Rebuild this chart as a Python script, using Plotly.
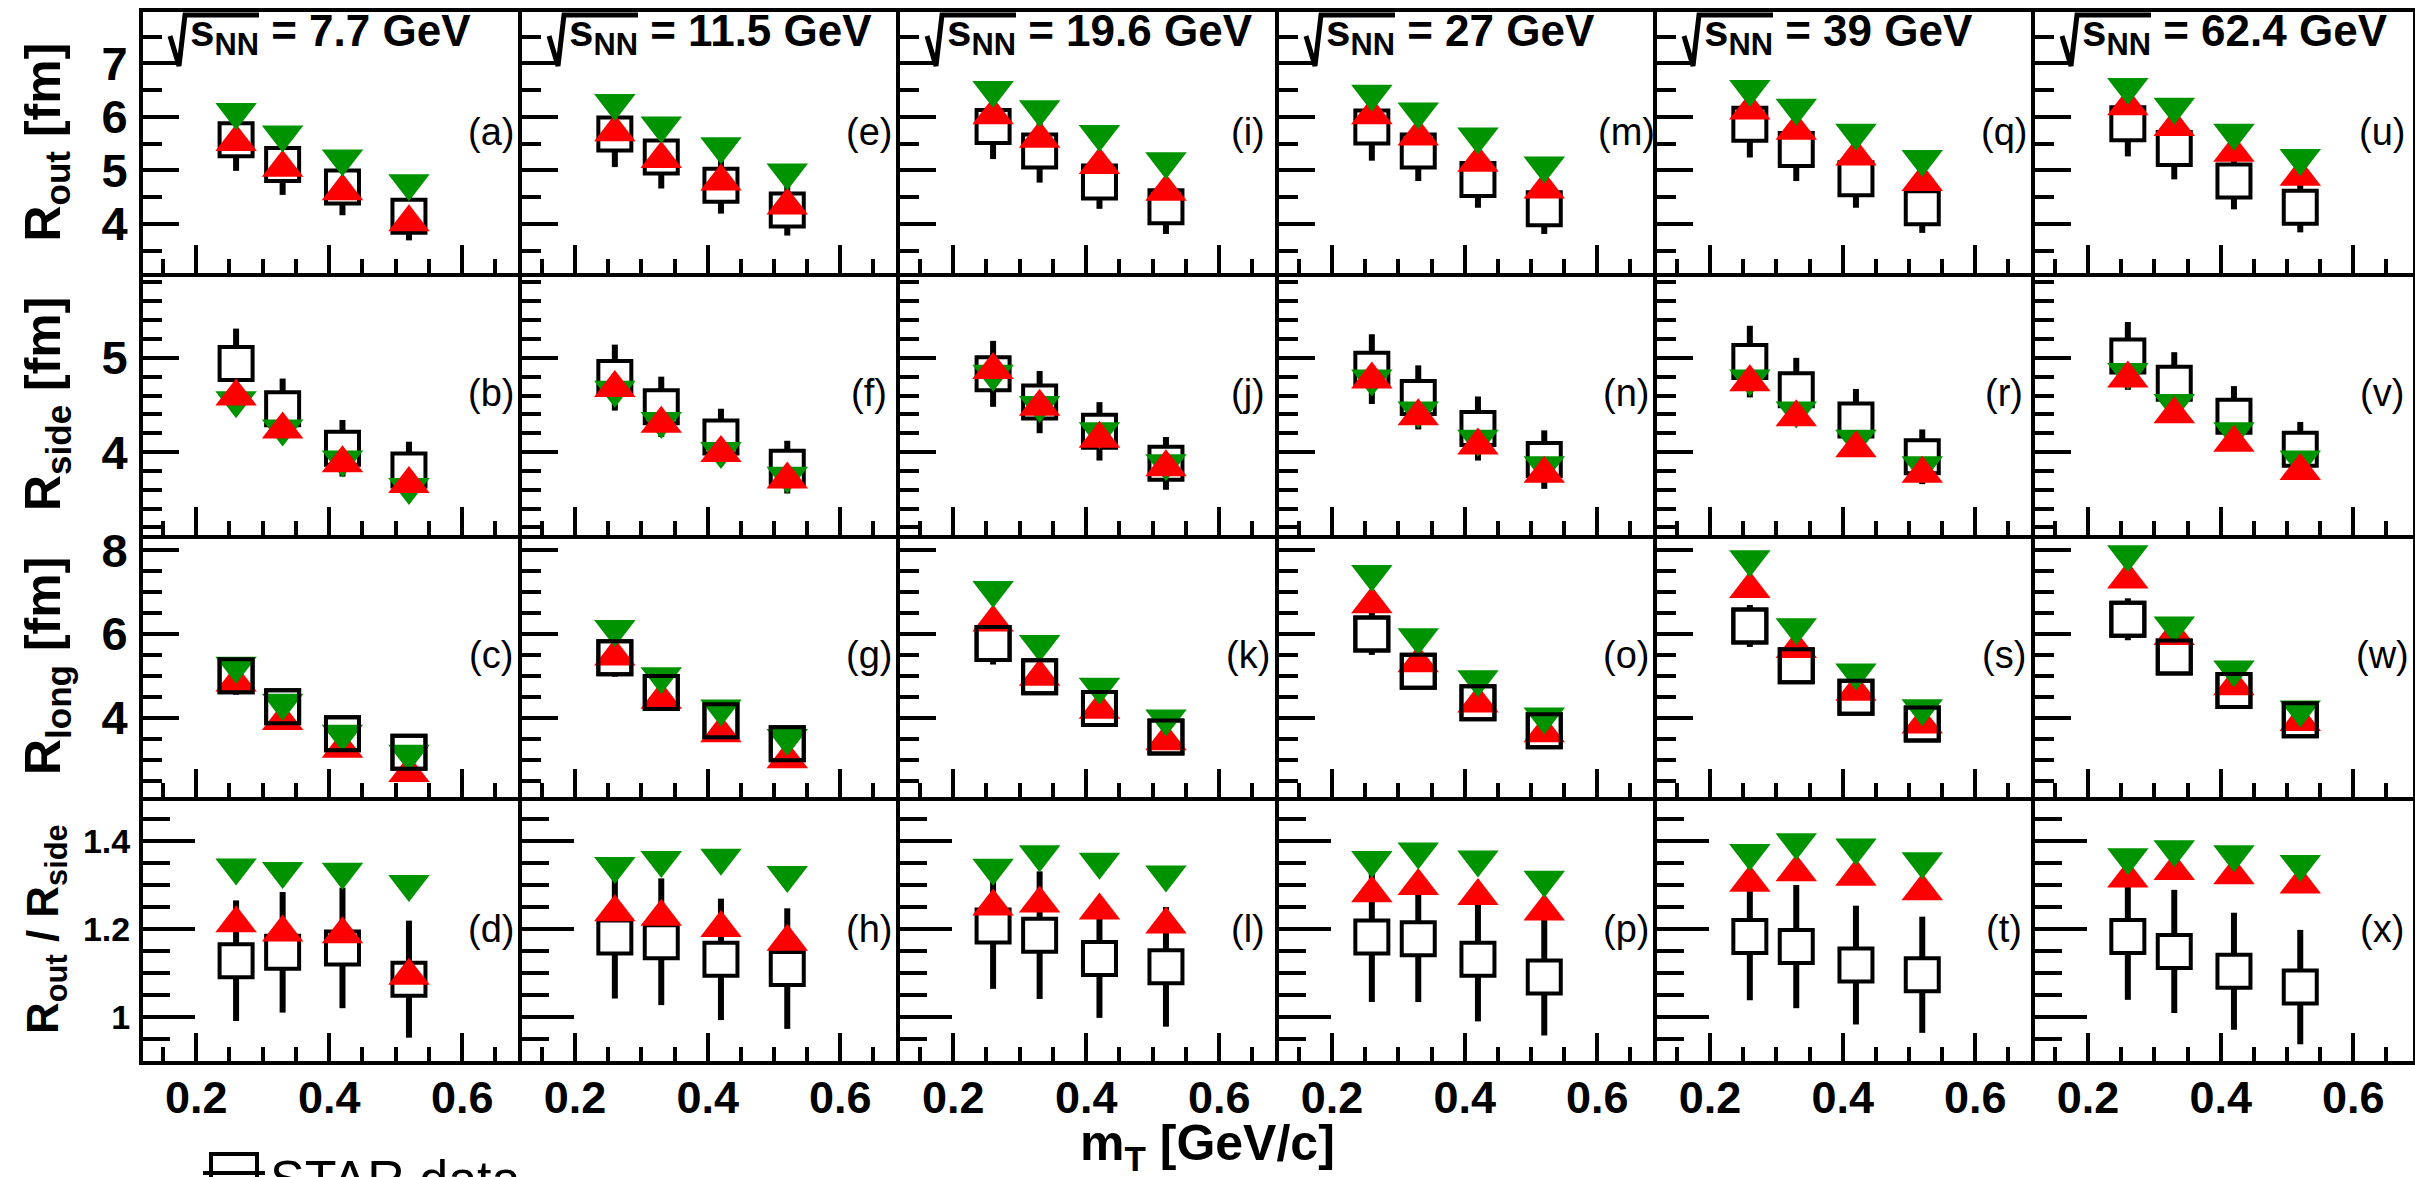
import plotly.graph_objects as go

W, H = 2415, 1177

# ---------------- data ----------------
mT = [0.26, 0.33, 0.42, 0.52]
energies = ["7.7", "11.5", "19.6", "27", "39", "62.4"]
letters = [["a", "b", "c", "d"], ["e", "f", "g", "h"], ["i", "j", "k", "l"],
           ["m", "n", "o", "p"], ["q", "r", "s", "t"], ["u", "v", "w", "x"]]

# R_out [fm]
rout_star = [[5.57, 5.11, 4.69, 4.14], [5.68, 5.25, 4.72, 4.26], [5.82, 5.36, 4.78, 4.32],
             [5.81, 5.36, 4.83, 4.28], [5.86, 5.39, 4.84, 4.30], [5.87, 5.41, 4.80, 4.31]]
rout_star_err = [[0.58, 0.57, 0.53, 0.45], [0.62, 0.59, 0.53, 0.48], [0.61, 0.59, 0.50, 0.51],
                 [0.63, 0.56, 0.53, 0.47], [0.62, 0.59, 0.54, 0.47], [0.61, 0.58, 0.53, 0.47]]
rout_red = [[5.53, 5.05, 4.61, 4.03], [5.71, 5.21, 4.79, 4.34], [6.03, 5.59, 5.10, 4.60],
            [6.03, 5.63, 5.14, 4.64], [6.12, 5.74, 5.26, 4.78], [6.20, 5.81, 5.33, 4.88]]
rout_green = [[6.09, 5.67, 5.22, 4.76], [6.26, 5.84, 5.45, 4.96], [6.50, 6.14, 5.68, 5.17],
              [6.43, 6.10, 5.63, 5.09], [6.52, 6.17, 5.70, 5.21], [6.56, 6.19, 5.70, 5.23]]

# R_side [fm]
rside_star = [[4.94, 4.46, 4.04, 3.81], [4.79, 4.48, 4.16, 3.84], [4.83, 4.53, 4.22, 3.88],
              [4.88, 4.58, 4.25, 3.92], [4.96, 4.66, 4.34, 3.95], [5.02, 4.73, 4.38, 4.03]]
rside_star_err = [[0.37, 0.32, 0.30, 0.30], [0.35, 0.32, 0.30, 0.28], [0.35, 0.33, 0.31, 0.28],
                  [0.37, 0.34, 0.34, 0.31], [0.38, 0.34, 0.33, 0.29], [0.36, 0.33, 0.32, 0.29]]
rside_red = [[4.59, 4.24, 3.88, 3.66], [4.68, 4.30, 3.99, 3.71], [4.87, 4.48, 4.14, 3.84],
             [4.77, 4.38, 4.07, 3.77], [4.74, 4.37, 4.04, 3.77], [4.78, 4.40, 4.10, 3.80]]
rside_green = [[4.55, 4.25, 3.92, 3.63], [4.66, 4.33, 4.01, 3.75], [4.83, 4.50, 4.22, 3.88],
               [4.78, 4.44, 4.14, 3.86], [4.78, 4.44, 4.14, 3.86], [4.85, 4.52, 4.22, 3.92]]

# R_long [fm]
rlong_star = [[5.00, 4.26, 3.62, 3.18], [5.43, 4.60, 3.93, 3.38], [5.77, 4.98, 4.22, 3.54],
              [6.00, 5.11, 4.36, 3.69], [6.19, 5.24, 4.49, 3.85], [6.35, 5.45, 4.65, 3.95]]
rlong_star_err = [[0.45, 0.40, 0.35, 0.35], [0.45, 0.40, 0.35, 0.35], [0.50, 0.40, 0.35, 0.35],
                  [0.50, 0.40, 0.35, 0.35], [0.50, 0.40, 0.35, 0.35], [0.50, 0.40, 0.35, 0.35]]
rlong_red = [[4.84, 3.92, 3.26, 2.68], [5.46, 4.43, 3.63, 3.01], [6.27, 4.98, 4.19, 3.44],
             [6.71, 5.30, 4.34, 3.63], [7.07, 5.64, 4.62, 3.84], [7.30, 5.95, 4.75, 3.90]]
rlong_green = [[5.24, 4.36, 3.62, 3.14], [6.12, 4.99, 4.22, 3.52], [7.05, 5.76, 4.74, 3.98],
               [7.43, 5.92, 4.92, 4.03], [7.78, 6.16, 5.08, 4.23], [7.90, 6.20, 5.15, 4.20]]

# R_out / R_side
ratio_star = [[1.128, 1.147, 1.157, 1.086], [1.182, 1.171, 1.131, 1.110], [1.207, 1.186, 1.133, 1.114],
              [1.182, 1.178, 1.131, 1.091], [1.183, 1.160, 1.118, 1.096], [1.183, 1.149, 1.104, 1.068]]
ratio_star_err = [[0.137, 0.137, 0.137, 0.133], [0.140, 0.144, 0.138, 0.137], [0.143, 0.145, 0.135, 0.136],
                  [0.148, 0.144, 0.141, 0.133], [0.145, 0.140, 0.135, 0.132], [0.144, 0.140, 0.133, 0.130]]
ratio_red = [[1.213, 1.192, 1.188, 1.094], [1.238, 1.228, 1.202, 1.171], [1.251, 1.258, 1.242, 1.210],
             [1.281, 1.298, 1.275, 1.240], [1.305, 1.329, 1.319, 1.286], [1.315, 1.332, 1.322, 1.301]]
ratio_green = [[1.340, 1.332, 1.330, 1.302], [1.343, 1.357, 1.362, 1.323], [1.339, 1.370, 1.353, 1.324],
               [1.357, 1.376, 1.358, 1.312], [1.373, 1.397, 1.385, 1.354], [1.363, 1.381, 1.370, 1.348]]

rows = [
    dict(star=rout_star, err=rout_star_err, red=rout_red, green=rout_green,
         yrange=[3.08, 7.96], major=[4, 5, 6, 7], labels=["4", "5", "6", "7"], minor=0.5,
         title="R<sub>out</sub> [fm]", tsize=50, lsize=47, tl=36, mtl=19),
    dict(star=rside_star, err=rside_star_err, red=rside_red, green=rside_green,
         yrange=[3.12, 5.90], major=[4, 5], labels=["4", "5"], minor=0.2,
         title="R<sub>side</sub> [fm]", tsize=50, lsize=47, tl=36, mtl=19),
    dict(star=rlong_star, err=rlong_star_err, red=rlong_red, green=rlong_green,
         yrange=[2.11, 8.36], major=[4, 6, 8], labels=["4", "6", "8"], minor=0.5,
         title="R<sub>long</sub> [fm]", tsize=50, lsize=47, tl=36, mtl=19),
    dict(star=ratio_star, err=ratio_star_err, red=ratio_red, green=ratio_green,
         yrange=[0.9, 1.5], major=[1.0, 1.2, 1.4], labels=["1", "1.2", "1.4"], minor=0.05,
         title="R<sub>out</sub> / R<sub>side</sub>", tsize=44, lsize=34, tl=52, mtl=27),
]

xticks = [0.2, 0.4, 0.6]
xticklabels = ["0.2", "0.4", "0.6"]

# ---------------- layout geometry (pixels) ----------------
col_edges = [143, 522, 900, 1279, 1657, 2035, 2413]
row_edges = [12, 273, 535, 797, 1061]

RED = "#ff0000"
GREEN = "#009300"
FONT = "Liberation Sans"
TRI = 36


def px(xp):
    return xp / W


def py(yp):
    return 1 - yp / H


fig = go.Figure()
layout = dict(width=W, height=H, margin=dict(l=0, r=0, t=0, b=0, autoexpand=False),
              paper_bgcolor="white", plot_bgcolor="white", showlegend=False)
annotations = []
shapes = []

k = 0
for c in range(6):
    for r in range(4):
        k += 1
        R = rows[r]
        xa = "x" if k == 1 else f"x{k}"
        ya = "y" if k == 1 else f"y{k}"
        xkey = "xaxis" if k == 1 else f"xaxis{k}"
        ykey = "yaxis" if k == 1 else f"yaxis{k}"
        L, Rr = col_edges[c], col_edges[c + 1]
        T, B = row_edges[r], row_edges[r + 1]
        layout[xkey] = dict(
            domain=[L / W, Rr / W], anchor=ya, range=[0.12, 0.69],
            showline=True, linecolor="black", linewidth=4, mirror=(r == 0),
            ticks="inside", ticklen=28, tickwidth=4, tickcolor="black",
            tickvals=xticks, ticktext=xticklabels, showticklabels=(r == 3),
            tickfont=dict(family=FONT, size=45, color="black", weight="bold"),
            ticklabelstandoff=-6,
            minor=dict(dtick=0.05, tick0=0.0, ticks="inside", ticklen=14, tickwidth=4,
                       tickcolor="black", showgrid=False),
            showgrid=False, zeroline=False, fixedrange=True)
        layout[ykey] = dict(
            domain=[1 - B / H, 1 - T / H], anchor=xa, range=R["yrange"],
            showline=True, linecolor="black", linewidth=4, mirror=(c == 5),
            ticks="inside", ticklen=R["tl"], tickwidth=4, tickcolor="black",
            tickvals=R["major"], ticktext=R["labels"], showticklabels=(c == 0),
            tickfont=dict(family=FONT, size=R["lsize"], color="black", weight="bold"),
            ticklabelstandoff=2,
            minor=dict(dtick=R["minor"], tick0=0.0, ticks="inside", ticklen=R["mtl"], tickwidth=4,
                       tickcolor="black", showgrid=False),
            showgrid=False, zeroline=False, fixedrange=True)

        # STAR data: error bars + white square
        fig.add_trace(go.Scatter(
            x=mT, y=R["star"][c], xaxis=xa, yaxis=ya, mode="markers", name="STAR data",
            error_y=dict(type="data", array=R["err"][c], color="black", thickness=6, width=0),
            marker=dict(symbol="square", size=33, color="white", line=dict(color="black", width=4)),
            showlegend=False))
        red_tr = go.Scatter(x=mT, y=R["red"][c], xaxis=xa, yaxis=ya, mode="markers",
                            marker=dict(symbol="triangle-up", size=TRI, color=RED, line=dict(width=0)),
                            showlegend=False)
        green_tr = go.Scatter(x=mT, y=R["green"][c], xaxis=xa, yaxis=ya, mode="markers",
                              marker=dict(symbol="triangle-down", size=TRI, color=GREEN, line=dict(width=0)),
                              showlegend=False)
        if r == 1:
            fig.add_trace(green_tr)
            fig.add_trace(red_tr)
        else:
            fig.add_trace(red_tr)
            fig.add_trace(green_tr)
        if r == 2:
            fig.add_trace(go.Scatter(
                x=mT, y=R["star"][c], xaxis=xa, yaxis=ya, mode="markers",
                marker=dict(symbol="square-open", size=33, color="black", line=dict(color="black", width=4)),
                showlegend=False))

        # panel letter
        dy = 132 if r == 3 else 120
        annotations.append(dict(
            text=f"({letters[c][r]})", xref="paper", yref="paper",
            x=px(Rr - 31), y=py(T + dy), xanchor="center", yanchor="middle",
            showarrow=False, font=dict(family=FONT, size=38, color="black")))

    # energy label: sqrt sign drawn as a path, text after it
    L = col_edges[c]
    annotations.append(dict(
        text=f"s<sub>NN</sub> = {energies[c]} GeV",
        xref="paper", yref="paper",
        x=px(L + 45), y=py(4), xanchor="left", yanchor="top", showarrow=False,
        font=dict(family=FONT, size=44, color="black", weight="bold")))
    path = (f"M {px(L + 27)},{py(36)} L {px(L + 36)},{py(66)} "
            f"L {px(L + 42)},{py(15)} L {px(L + 116)},{py(15)}")
    shapes.append(dict(type="path", xref="paper", yref="paper", path=path,
                       line=dict(color="black", width=5)))

# y-axis titles
for r in range(4):
    T, B = row_edges[r], row_edges[r + 1]
    annotations.append(dict(
        text=rows[r]["title"], xref="paper", yref="paper", x=px(46), y=py((T + B) / 2),
        xanchor="center", yanchor="middle", textangle=-90, showarrow=False,
        font=dict(family=FONT, size=rows[r]["tsize"], color="black", weight="bold")))

# x-axis title
annotations.append(dict(
    text="m<sub>T</sub> [GeV/c]", xref="paper", yref="paper", x=px(1207), y=py(1146),
    xanchor="center", yanchor="middle", showarrow=False,
    font=dict(family=FONT, size=50, color="black", weight="bold")))

# legend (cut by the bottom edge, as in the reference)
annotations.append(dict(
    text="STAR data", xref="paper", yref="paper", x=px(268), y=py(1148),
    xanchor="left", yanchor="top", showarrow=False,
    font=dict(family=FONT, size=52, color="black")))
shapes.append(dict(type="rect", xref="paper", yref="paper", x0=px(211), x1=px(257),
                   y0=py(1200), y1=py(1154), line=dict(color="black", width=4),
                   fillcolor="white"))
shapes.append(dict(type="line", xref="paper", yref="paper", x0=px(203), x1=px(265),
                   y0=py(1173), y1=py(1173), line=dict(color="black", width=4)))

layout["annotations"] = annotations
layout["shapes"] = shapes
fig.update_layout(**layout)
fig.write_html("out.html")
